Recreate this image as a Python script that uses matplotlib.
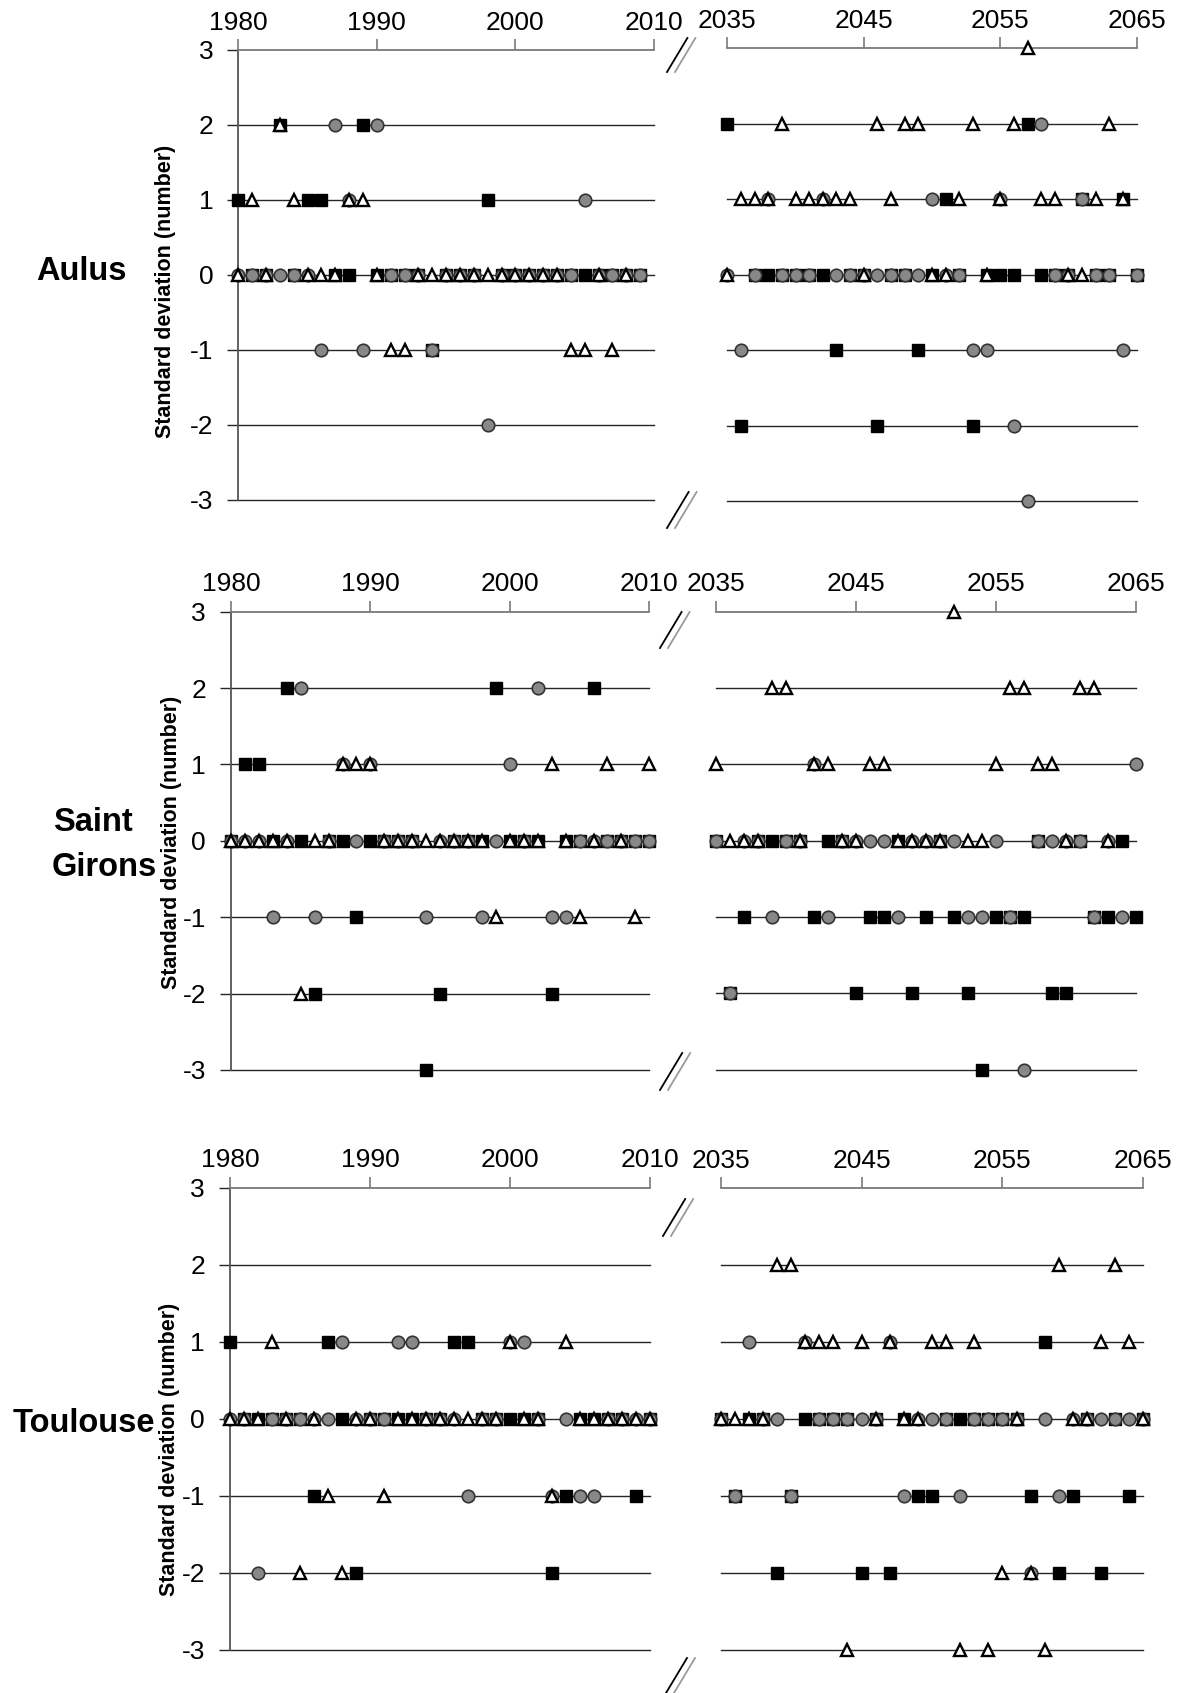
import numpy as np
import matplotlib
matplotlib.use("Agg")
import matplotlib.pyplot as plt
from matplotlib.lines import Line2D

nan = np.nan

# standardised anomaly class per year, three series per station
PAST_AULUS = np.arange(1980, 2010)
AULUS_SQ_PAST = [1, 0, 0, 2, 0, 1, 1, 0, 0, 2, 0, 0, 0, 0, -1, 0, 0, 0, 1, 0,
                 0, 0, 0, 0, 0, 0, 0, 0, 0, 0]
AULUS_CI_PAST = [0, 0, 0, 0, 0, 0, -1, 2, 1, -1, 2, 0, 0, 0, -1, 0, 0, 0, -2, 0,
                 0, 0, 0, 0, 0, 1, 0, 0, 0, 0]
AULUS_TR_PAST = [0, 1, 0, 2, 1, 0, 0, 0, 1, 1, 0, -1, -1, 0, 0, 0, 0, 0, 0, 0,
                 0, 0, 0, 0, -1, -1, 0, -1, 0, nan]

FUTURE = np.arange(2035, 2066)
AULUS_SQ_FUT = [2, -2, 0, 0, 0, 0, 0, 0, -1, 0, 0, -2, 0, 0, -1, 0, 1, 0, -2, 0,
                0, 0, 2, 0, 0, 0, 1, 0, 0, 1, 0]
AULUS_CI_FUT = [0, -1, 0, 1, 0, 0, 0, 1, 0, 0, 0, 0, 0, 0, 0, 1, 0, 0, -1, -1,
                1, -2, -3, 2, 0, 0, 1, 0, 0, -1, 0]
AULUS_TR_FUT = [0, 1, 1, 1, 2, 1, 1, 1, 1, 1, 0, 2, 1, 2, 2, 0, 0, 1, 2, 0,
                1, 2, 3, 1, 1, 0, 0, 1, 2, 1, nan]

PAST = np.arange(1980, 2011)
SG_SQ_PAST = [0, 1, 1, 0, 2, 0, -2, 0, 0, -1, 0, 0, 0, 0, -3, -2, 0, 0, 0, 2,
              0, 0, 0, -2, 0, 0, 2, 0, 0, 0, 0]
SG_CI_PAST = [0, 0, 0, -1, 0, 2, -1, 0, 1, 0, 1, 0, 0, 0, -1, 0, 0, 0, -1, 0,
              1, 0, 2, -1, -1, 0, 0, 0, 0, 0, 0]
SG_TR_PAST = [0, 0, 0, 0, 0, -2, 0, 0, 1, 1, 1, 0, 0, 0, 0, 0, 0, 0, 0, -1,
              0, 0, 0, 1, 0, -1, 0, 1, 0, -1, 1]
SG_SQ_FUT = [0, -2, -1, 0, 0, 0, 0, -1, 0, 0, -2, -1, -1, 0, -2, -1, 0, -1, -2, -3,
             -1, -1, -1, 0, -2, -2, 0, -1, -1, 0, -1]
SG_CI_FUT = [0, -2, 0, 0, -1, 0, 0, 1, -1, 0, 0, 0, 0, -1, 0, 0, 0, 0, -1, -1,
             0, -1, -3, 0, 0, 0, 0, -1, 0, -1, 1]
SG_TR_FUT = [1, 0, 0, 0, 2, 2, 0, 1, 1, 0, 0, 1, 1, 0, 0, 0, 0, 3, 0, 0,
             1, 2, 2, 1, 1, 0, 2, 2, 0, nan, nan]

TLS_SQ_PAST = [1, 0, 0, 0, 0, 0, -1, 1, 0, -2, 0, 0, 0, 0, 0, 0, 1, 1, 0, 0,
               0, 0, 0, -2, -1, 0, 0, 0, 0, -1, 0]
TLS_CI_PAST = [0, 0, -2, 0, 0, 0, 0, 0, 1, 0, 0, 0, 1, 1, 0, 0, 0, -1, 0, 0,
               1, 1, 0, -1, 0, -1, -1, 0, 0, 0, 0]
TLS_TR_PAST = [0, 0, 0, 1, 0, -2, 0, -1, -2, 0, 0, -1, 0, 0, 0, 0, 0, 0, 0, 0,
               1, 0, 0, -1, 1, 0, 0, 0, 0, 0, 0]
TLS_SQ_FUT = [0, -1, 0, 0, -2, -1, 0, 0, 0, 0, -2, 0, -2, 0, -1, -1, 0, 0, 0, 0,
              0, 0, -1, 1, -2, -1, 0, -2, 0, -1, 0]
TLS_CI_FUT = [0, -1, 1, 0, 0, -1, 1, 0, 0, 0, 0, 0, 1, -1, 0, 0, 0, -1, 0, 0,
              0, 0, -2, 0, -1, 0, 0, 0, 0, 0, 0]
TLS_TR_FUT = [0, 0, 0, 0, 2, 2, 1, 1, 1, -3, 1, 0, 1, 0, 0, 1, 1, -3, 1, -3,
              -2, 0, -2, -3, 2, 0, 0, 1, 2, 1, 0]

W, H = 1182, 1693
fig = plt.figure(figsize=(W / 100, H / 100), dpi=100)
plt.rcParams["font.family"] = ["Liberation Sans", "DejaVu Sans"]

GRID = "#262626"
SPINE = "#7a7a7a"


def px_axes(x0, x1, y0, y1):
    return fig.add_axes([x0 / W, 1 - y1 / H, (x1 - x0) / W, (y1 - y0) / H])


def draw_panel(ax, years, sq, ci, tr, start, left):
    ax.set_xlim(start, start + 30)
    ax.set_ylim(-3, 3)
    ax.patch.set_alpha(0)
    for lvl in range(-3, 3):
        ax.axhline(lvl, color=GRID, lw=1.0, zorder=1, clip_on=False)
    ax.plot(years, sq, ls="none", marker="s", ms=9.2, mfc="black", mec="black",
            mew=1.0, clip_on=False, zorder=3)
    ax.plot(years, ci, ls="none", marker="o", ms=9.0, mfc="#888888", mec="#333333",
            mew=1.2, clip_on=False, zorder=4)
    ax.plot(years, tr, ls="none", marker="^", ms=9.0, mfc="white", mec="black",
            mew=1.7, clip_on=False, zorder=5)
    for s in ("right", "bottom"):
        ax.spines[s].set_visible(False)
    ax.spines["top"].set_color(SPINE)
    ax.spines["top"].set_linewidth(1.3)
    ax.xaxis.tick_top()
    ax.set_xticks([start, start + 10, start + 20, start + 30])
    ax.tick_params(axis="x", direction="out", length=8, width=1.2, color=SPINE,
                   labelsize=19, pad=3)
    if left:
        ax.spines["left"].set_color("#555555")
        ax.spines["left"].set_linewidth(1.3)
        ax.set_yticks(range(-3, 4))
        ax.set_yticklabels([str(v) for v in range(-3, 4)])
        ax.tick_params(axis="y", direction="out", length=8, width=1.0, color=GRID,
                       labelsize=19, pad=10)
    else:
        ax.spines["left"].set_visible(False)
        ax.set_yticks([])


def break_mark(x0, y0, y1):
    dx = (y1 - y0) * 0.6
    for off, col in ((0, "black"), (8, "#9a9a9a")):
        fig.add_artist(Line2D([(x0 + off) / W, (x0 + off + dx) / W],
                              [1 - y1 / H, 1 - y0 / H], color=col, lw=1.3,
                              transform=fig.transFigure))


stations = [
    dict(name="Aulus", label_xy=[(81, 272)], ylab_xy=(166, 291),
         left=(238.3, 654, 50, 500), right=(727.3, 1136.7, 48, 501),
         past=(PAST_AULUS, AULUS_SQ_PAST, AULUS_CI_PAST, AULUS_TR_PAST),
         fut=(FUTURE, AULUS_SQ_FUT, AULUS_CI_FUT, AULUS_TR_FUT),
         breaks=[(667, 38, 72), (667, 492, 528)]),
    dict(name="Saint Girons", label_xy=[(93, 822), (104, 868)], ylab_xy=(171, 842),
         left=(231, 649.3, 611.7, 1070), right=(715.7, 1136, 611.7, 1069.5),
         past=(PAST, SG_SQ_PAST, SG_CI_PAST, SG_TR_PAST),
         fut=(FUTURE, SG_SQ_FUT, SG_CI_FUT, SG_TR_FUT),
         breaks=[(660, 612, 648), (660, 1053, 1090)]),
    dict(name="Toulouse", label_xy=[(84, 1424)], ylab_xy=(170, 1449),
         left=(230, 650, 1187.7, 1650), right=(720.7, 1143.3, 1188, 1650),
         past=(PAST, TLS_SQ_PAST, TLS_CI_PAST, TLS_TR_PAST),
         fut=(FUTURE, TLS_SQ_FUT, TLS_CI_FUT, TLS_TR_FUT),
         breaks=[(663, 1199, 1236), (666, 1658, 1693)]),
]

for st in stations:
    axl = px_axes(*st["left"])
    yrs, s, c, t = st["past"]
    draw_panel(axl, yrs, s, c, t, 1980, True)
    axr = px_axes(*st["right"])
    yrs, s, c, t = st["fut"]
    draw_panel(axr, yrs, s, c, t, 2035, False)

    parts = st["name"].split() if len(st["label_xy"]) > 1 else [st["name"]]
    for word, (x, y) in zip(parts, st["label_xy"]):
        fig.text(x / W, 1 - y / H, word, fontsize=23.5, fontweight="bold",
                 ha="center", va="center")
    x, y = st["ylab_xy"]
    fig.text(x / W, 1 - y / H, "Standard deviation (number)", rotation=90,
             fontsize=15.5, fontweight="bold", ha="center", va="center")
    for bx, by0, by1 in st["breaks"]:
        break_mark(bx, by0, by1)

fig.savefig("out.png", dpi=100)
